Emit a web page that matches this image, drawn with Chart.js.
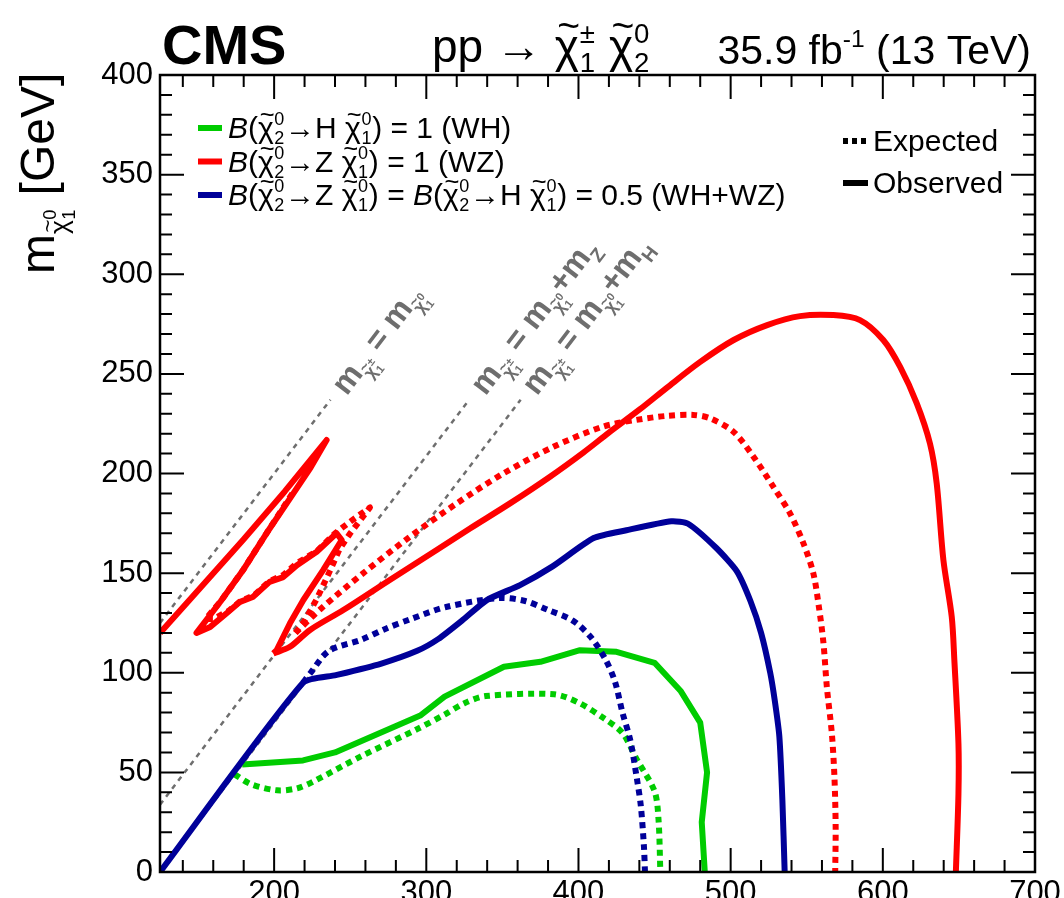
<!DOCTYPE html>
<html>
<head>
<meta charset="utf-8">
<script src="https://cdn.jsdelivr.net/npm/chart.js@4.4.1/dist/chart.umd.min.js"></script>
<style>
  html, body { margin: 0; padding: 0; background: #fff; overflow: hidden; }
  canvas { display: block; }
</style>
</head>
<body>
<canvas id="myChart" width="1064" height="898"></canvas>
<script>
// axis ranges and tick labels
const xRange = [125, 700];
const yRange = [0, 400];
const xTicks = [200, 300, 400, 500, 600, 700];
const yTicks = [0, 50, 100, 150, 200, 250, 300, 350, 400];

// B(chi2 -> H chi1) = 1 (WH)
const whObsX = [179, 219, 240, 296, 312, 351, 375, 401, 425, 450, 467, 480, 484.5, 481, 483];
const whObsY = [54, 56, 60, 78.5, 88, 103, 105.5, 111.3, 110.5, 105, 91, 75, 50, 25, 0];
const whExpX = [174, 185, 202, 215, 226, 257, 294, 312, 325, 339, 384, 400, 417, 429, 438.5, 450, 452.6, 453.8];
const whExpY = [49, 44, 41, 42, 45.5, 58, 71.7, 79, 84.7, 88.3, 89.2, 85, 77, 69.7, 56.3, 40.5, 26.3, 0];

// B(chi2 -> Z chi1) = 1 (WZ): compressed region near the diagonal, then the main contour
const wzObsIslandX = [125, 152, 180, 207, 234.5, 224, 210, 195, 180, 165, 149, 158, 169, 177.6, 186, 197, 206, 215, 228, 241, 244.4,
  232.3, 219.2, 210.4, 201.7, 199.5];
const wzObsIslandY = [120, 143, 167, 191, 216.8, 203, 187, 170, 152, 136, 120, 123, 130, 135.6, 138, 145.6, 148, 154, 160.7, 170, 166.6,
  151.6, 136.5, 124.8, 111.4, 109.7];
const wzObsX = [199.5, 210.4, 223.6, 245.5, 276, 306.8, 328.7, 355, 381.3, 403.2, 420, 440, 458, 480, 502, 524,
  545.6, 567.5, 585, 600.3, 611.3, 622.3, 631, 635.4, 639.8, 645.3, 647, 649.7, 649.7, 648];
const wzObsY = [109.7, 113, 121.5, 131.5, 146.6, 161.6, 172.4, 185, 198.4, 210.5, 220.5, 232, 243, 256, 267, 274.5,
  279, 279.5, 277, 267, 253.6, 235.2, 215, 195, 156.6, 128, 106.4, 64.4, 39.3, 0];
const wzExpIslandX = [212, 195, 180, 165, 155, 160, 170, 178, 187, 197, 206, 215, 228, 240, 252, 263, 250, 243, 236, 228, 220, 214];
const wzExpIslandY = [190, 170, 152, 136, 127, 127, 131, 136, 139, 146, 149, 155, 161, 170, 177, 183, 170, 162, 150, 137, 126, 120];
const wzExpX = [214, 232, 258.6, 289.3, 320, 350.6, 383.5, 416, 438, 458, 475.5, 486.4, 501.8, 515, 528, 539, 547.8, 554.3, 558, 561,
  563.2, 566.5, 568.2, 569, 568.7];
const wzExpY = [120, 133, 150, 168.3, 185, 200, 213.4, 223.5, 226.9, 228.9, 229.4, 227.7, 221, 208.4, 193.4, 180, 165, 150, 133, 114.8,
  93, 69.5, 47.7, 22.5, 0];

// B = 0.5 each (WH+WZ)
const mixObsX = [125, 219, 240.6, 270, 294, 308, 324, 340, 361.6, 383, 410, 431.5, 461, 472, 490.6, 504, 513, 520, 526, 529, 532, 534, 535.5];
const mixObsY = [0, 95, 98.8, 104.5, 111, 117, 126.5, 136.6, 144, 153.4, 167.6, 171.5, 176, 174.8, 162.6, 151, 136, 120, 100, 86, 68, 36, 0];
const mixExpX = [219, 224, 236, 257, 273, 290, 313, 348, 365, 380, 396, 408, 418, 424, 429, 434, 438.5, 441, 443, 443.7];
const mixExpY = [95, 100, 111, 116.5, 122, 127, 133, 137.5, 136, 131.5, 126.3, 118, 106.3, 95.5, 79.7, 66.3, 46.3, 33, 13, 0];

// kinematic diagonals: m(chi1+-) = m(chi1_0) + offset
const diagOffsets = [0, 91.2, 125];
const diagTopY = 237;

const GREEN = '#00cc00', RED = '#ff0000', BLUE = '#000099', GREY = '#6e6e6e';
const FONT = '"Liberation Sans", Arial, sans-serif';

function pts(xs, ys) { return xs.map((x, i) => ({ x: x, y: ys[i] })); }

function curve(label, xs, ys, color, dashed, tension) {
  return {
    label: label, data: pts(xs, ys), showLine: true, borderColor: color, backgroundColor: color,
    borderWidth: 6, borderDash: dashed ? [6, 5] : [], borderCapStyle: 'butt', borderJoinStyle: 'round',
    pointRadius: 0, fill: false, tension: tension || 0
  };
}

const diagSets = diagOffsets.map(d => ({
  label: 'diag' + d, data: [{ x: xRange[0], y: xRange[0] - d }, { x: diagTopY + d, y: diagTopY }],
  showLine: true, borderColor: GREY, borderWidth: 2.5, borderDash: [5, 5], pointRadius: 0, fill: false
}));

function setFont(ctx, px, b, i) { ctx.font = (i ? 'italic ' : '') + (b ? 'bold ' : '') + px + 'px ' + FONT; }

// draws a string with sub/superscripts (and a tilded chi), returns its width
function rich(ctx, x, y, parts, size, bold, measureOnly) {
  let cx = x;
  for (const p of parts) {
    const it = typeof p === 'string' ? { t: p } : p;
    const k = it.k || 1, dy = it.dy || 0, s = size * k, by = y + dy * size;
    if (it.up !== undefined) {
      setFont(ctx, s, bold, false);
      const w = Math.max(ctx.measureText(it.up).width, ctx.measureText(it.dn).width);
      if (!measureOnly) {
        ctx.fillText(it.up, cx, by - 0.7 * s);
        ctx.fillText(it.dn, cx, by + 0.35 * s);
      }
      cx += w + 0.04 * s;
    } else if (it.chi) {
      setFont(ctx, s, bold, false);
      const w = ctx.measureText('χ').width;
      if (!measureOnly) {
        ctx.fillText('χ', cx, by);
        setFont(ctx, s * 0.85, bold, false);
        const tw = ctx.measureText('~').width;
        ctx.fillText('~', cx + (w - tw) / 2 + 0.04 * s, by - 0.5 * s);
      }
      cx += w + 0.02 * s;
    } else {
      setFont(ctx, s, bold, it.i);
      if (!measureOnly) ctx.fillText(it.t, cx, by);
      cx += ctx.measureText(it.t).width;
    }
  }
  return cx - x;
}

const CHI = { chi: true };
const chi01 = [CHI, { up: '0', dn: '1', k: .6 }];
const chi02 = [CHI, { up: '0', dn: '2', k: .6 }];
const legendRows = [
  { color: GREEN, parts: [{ t: 'B', i: true }, '(', ...chi02, '→H ', ...chi01, ') = 1 (WH)'] },
  { color: RED, parts: [{ t: 'B', i: true }, '(', ...chi02, '→Z ', ...chi01, ') = 1 (WZ)'] },
  { color: BLUE, parts: [{ t: 'B', i: true }, '(', ...chi02, '→Z ', ...chi01, ') = ', { t: 'B', i: true }, '(', ...chi02, '→H ', ...chi01, ') = 0.5 (WH+WZ)'] }
];
const subC = { chi: true, k: .55, dy: .3 };
const lhs = ['m', subC, { up: '±', dn: '1', k: .35, dy: .3 }, ' = m', subC, { up: '0', dn: '1', k: .35, dy: .3 }];
const diagLabels = [
  lhs,
  [...lhs, '+m', { t: 'Z', k: .6, dy: .3 }],
  [...lhs, '+m', { t: 'H', k: .6, dy: .3 }]
];

const frame = {
  id: 'frame',
  afterDatasetsDraw(chart) {
    const ctx = chart.ctx, a = chart.chartArea;
    const xs = chart.scales.x, ys = chart.scales.y;
    ctx.save();
    ctx.textBaseline = 'alphabetic';

    // diagonal labels
    ctx.fillStyle = GREY;
    diagOffsets.forEach((d, i) => {
      const px = xs.getPixelForValue(diagTopY + 5 + d), py = ys.getPixelForValue(diagTopY + 5);
      const p2x = xs.getPixelForValue(300 + d), p2y = ys.getPixelForValue(300);
      ctx.save();
      ctx.translate(px, py);
      ctx.rotate(Math.atan2(p2y - py, p2x - px));
      rich(ctx, 0, 11, diagLabels[i], 32, true);
      ctx.restore();
    });

    // frame and ticks
    ctx.strokeStyle = '#000';
    ctx.lineWidth = 2;
    ctx.beginPath();
    for (let v = 140; v <= 700; v += 20) {
      const x = xs.getPixelForValue(v), len = v % 100 === 0 ? 24 : 12;
      ctx.moveTo(x, a.bottom); ctx.lineTo(x, a.bottom - len);
      ctx.moveTo(x, a.top); ctx.lineTo(x, a.top + len);
    }
    for (let v = 0; v <= 400; v += 10) {
      const y = ys.getPixelForValue(v), len = v % 50 === 0 ? 24 : 12;
      ctx.moveTo(a.left, y); ctx.lineTo(a.left + len, y);
      ctx.moveTo(a.right, y); ctx.lineTo(a.right - len, y);
    }
    ctx.stroke();
    ctx.lineWidth = 2.5;
    ctx.strokeRect(a.left, a.top, a.right - a.left, a.bottom - a.top);

    // legend (left)
    ctx.fillStyle = '#000';
    legendRows.forEach((r, i) => {
      const y = 128 + i * 33.5;
      ctx.strokeStyle = r.color; ctx.lineWidth = 6; ctx.setLineDash([]);
      ctx.beginPath(); ctx.moveTo(198, y); ctx.lineTo(222, y); ctx.stroke();
      rich(ctx, 228, y + 10, r.parts, 30, false);
    });

    // legend (right)
    ctx.strokeStyle = '#000'; ctx.lineWidth = 6;
    ctx.setLineDash([5, 4]);
    ctx.beginPath(); ctx.moveTo(843, 141); ctx.lineTo(868, 141); ctx.stroke();
    ctx.setLineDash([]);
    ctx.beginPath(); ctx.moveTo(843, 183); ctx.lineTo(868, 183); ctx.stroke();
    rich(ctx, 873, 151, ['Expected'], 30, false);
    rich(ctx, 873, 193, ['Observed'], 30, false);

    // header
    setFont(ctx, 56, true, false);
    ctx.fillText('CMS', 162, 64);
    rich(ctx, 432, 62, ['pp → ', CHI, { up: '±', dn: '1', k: .6 }, ' ', CHI, { up: '0', dn: '2', k: .6 }], 46, false);
    const lumi = ['35.9 fb', { t: '-1', k: .6, dy: -.42 }, ' (13 TeV)'];
    const w = rich(ctx, 0, 0, lumi, 41, false, true);
    rich(ctx, 1031 - w, 64, lumi, 41, false);

    // y axis title
    ctx.save();
    ctx.translate(54, 274);
    ctx.rotate(-Math.PI / 2);
    rich(ctx, 0, 0, ['m', { chi: true, k: .55, dy: .3 }, { up: '0', dn: '1', k: .38, dy: .3 }, ' [GeV]'], 48, false);
    ctx.restore();

    ctx.restore();
  }
};

const config = {
  type: 'scatter',
  data: {
    datasets: [
      curve('WZ observed', wzObsX, wzObsY, RED, false, 0.3),
      curve('WZ observed (near diagonal)', wzObsIslandX, wzObsIslandY, RED, false, 0),
      curve('WZ expected', wzExpX, wzExpY, RED, true, 0.3),
      curve('WZ expected (near diagonal)', wzExpIslandX, wzExpIslandY, RED, true, 0),
      curve('WH+WZ observed', mixObsX, mixObsY, BLUE, false, 0.2),
      curve('WH+WZ expected', mixExpX, mixExpY, BLUE, true, 0.3),
      curve('WH observed', whObsX, whObsY, GREEN, false, 0),
      curve('WH expected', whExpX, whExpY, GREEN, true, 0.3),
      ...diagSets
    ]
  },
  options: {
    responsive: false,
    animation: false,
    devicePixelRatio: 1,
    layout: { padding: { left: 0, right: 29, top: 75, bottom: 0 } },
    plugins: { legend: { display: false }, tooltip: { enabled: false } },
    scales: {
      x: {
        type: 'linear', min: xRange[0], max: xRange[1],
        grid: { display: false, drawTicks: false }, border: { display: false },
        ticks: { color: '#000', font: { family: FONT, size: 31 }, padding: 3, maxRotation: 0, autoSkip: false },
        afterBuildTicks: s => { s.ticks = xTicks.map(v => ({ value: v })); },
        afterFit: s => { s.height = 26; }
      },
      y: {
        type: 'linear', min: yRange[0], max: yRange[1],
        grid: { display: false, drawTicks: false }, border: { display: false },
        ticks: { color: '#000', font: { family: FONT, size: 31 }, padding: 7, autoSkip: false },
        afterBuildTicks: s => { s.ticks = yTicks.map(v => ({ value: v })); },
        afterFit: s => { s.width = 160; }
      }
    }
  },
  plugins: [frame]
};

const myChart = new Chart(document.getElementById('myChart'), config);
</script>
</body>
</html>
